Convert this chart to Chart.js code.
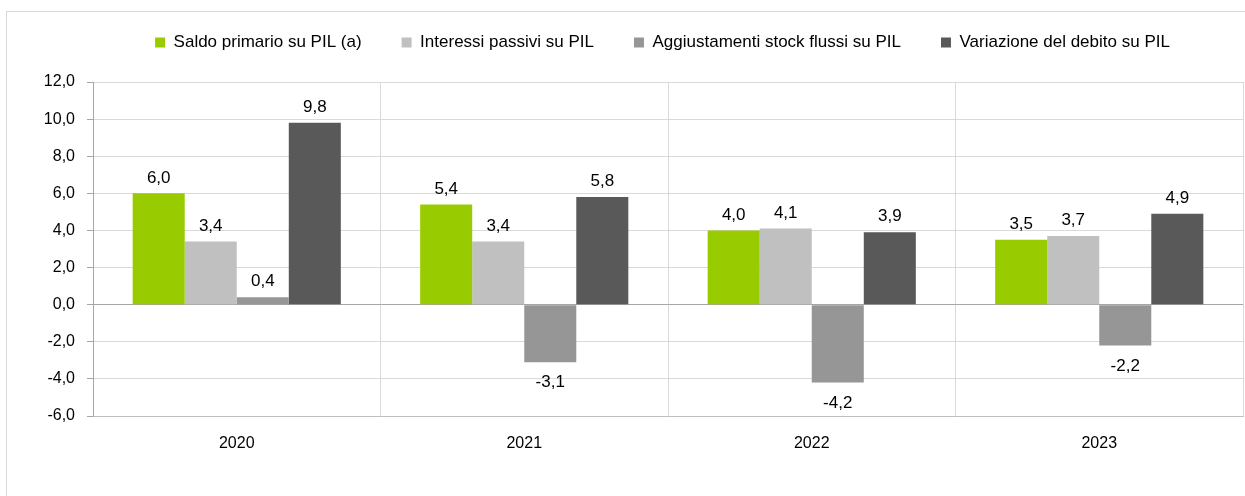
<!DOCTYPE html>
<html lang="it">
  <head>
    <meta charset="UTF-8" />
    <title>Variazione del debito</title>
    <style>
      body {
        margin: 0;
        background: #fff;
      }
      .wrap {
        position: relative;
        width: 1245px;
        height: 496px;
        overflow: hidden;
      }
      .frame {
        position: absolute;
        left: 6px;
        top: 11px;
        width: 1240px;
        height: 500px;
        border: 1px solid #d9d9d9;
      }
      .chart-box {
        position: absolute;
        left: 0;
        top: 0;
        width: 1245px;
        height: 496px;
      }
    </style>
  </head>
  <body>
    <div class="wrap">
      <div class="frame"></div>
      <div class="chart-box">
        <canvas id="mychart"></canvas>
      </div>
    </div>

    <script src="https://cdn.jsdelivr.net/npm/chart.js@4/dist/chart.umd.min.js"></script>
    <script>
      // dati
      const anni = ["2020", "2021", "2022", "2023"];
      const saldoPrimario = [6.0, 5.4, 4.0, 3.5];
      const interessiPassivi = [3.4, 3.4, 4.1, 3.7];
      const aggiustamenti = [0.4, -3.1, -4.2, -2.2];
      const variazioneDebito = [9.8, 5.8, 3.9, 4.9];
      const yTicks = [-6, -4, -2, 0, 2, 4, 6, 8, 10, 12];

      const FONT = "'Liberation Sans', Arial, sans-serif";
      const fmt = (v) => v.toFixed(1).replace(".", ",");

      // etichette dei valori sopra/sotto le barre
      const valueLabels = {
        id: "valueLabels",
        afterDatasetsDraw(chart) {
          const ctx = chart.ctx;
          ctx.save();
          ctx.font = "17px " + FONT;
          ctx.fillStyle = "#000";
          ctx.textAlign = "center";
          chart.data.datasets.forEach((ds, i) => {
            const meta = chart.getDatasetMeta(i);
            meta.data.forEach((bar, j) => {
              const v = ds.data[j];
              if (v >= 0) {
                ctx.textBaseline = "bottom";
                ctx.fillText(fmt(v), bar.x, bar.y - 7);
              } else {
                ctx.textBaseline = "top";
                ctx.fillText(fmt(v), bar.x, bar.y + 12);
              }
            });
          });
          ctx.restore();
        },
      };

      // legenda: piu spazio sotto e spostata verso il centro dell'area del grafico
      const legendTweak = {
        id: "legendTweak",
        beforeInit(chart) {
          const fit = chart.legend.fit;
          chart.legend.fit = function () {
            fit.bind(chart.legend)();
            this.height += 15;
          };
        },
        afterLayout(chart) {
          chart.legend.left += 82;
          chart.legend.top -= 6;
        },
      };

      const mychart = document.getElementById("mychart");

      new Chart(mychart, {
        type: "bar",
        data: {
          labels: anni,
          datasets: [
            {
              label: "Saldo primario su PIL (a)",
              data: saldoPrimario,
              backgroundColor: "#99cc00",
            },
            {
              label: "Interessi passivi su PIL",
              data: interessiPassivi,
              backgroundColor: "#c0c0c0",
            },
            {
              label: "Aggiustamenti stock flussi su PIL",
              data: aggiustamenti,
              backgroundColor: "#969696",
            },
            {
              label: "Variazione del debito su PIL",
              data: variazioneDebito,
              backgroundColor: "#595959",
            },
          ],
        },
        options: {
          maintainAspectRatio: false,
          animation: false,
          layout: { padding: { left: 0, right: 2, top: 0, bottom: 0 } },
          datasets: {
            bar: {
              categoryPercentage: 0.724,
              barPercentage: 1,
              borderWidth: 0,
            },
          },
          plugins: {
            tooltip: { enabled: false },
            legend: {
              position: "top",
              labels: {
                boxWidth: 10,
                boxHeight: 10,
                padding: 40,
                color: "#000",
                font: { family: FONT, size: 17 },
              },
            },
          },
          scales: {
            x: {
              afterFit: (s) => {
                s.height = 80;
              },
              grid: {
                color: "#d9d9d9",
                offset: true,
                drawTicks: false,
              },
              border: { color: "#bfbfbf" },
              ticks: {
                color: "#000",
                padding: 18,
                font: { family: FONT, size: 16 },
              },
            },
            y: {
              min: -6,
              max: 12,
              afterFit: (s) => {
                s.width = 93;
              },
              afterBuildTicks: (s) => {
                s.ticks = yTicks.map((v) => ({ value: v }));
              },
              grid: {
                color: (c) => (c.tick && c.tick.value === 0 ? "#a6a6a6" : "#d9d9d9"),
                tickColor: "#a6a6a6",
                tickLength: 6,
              },
              border: { color: "#a6a6a6" },
              ticks: {
                color: "#000",
                padding: 12,
                font: { family: FONT, size: 16 },
                callback: (v) => fmt(v),
              },
            },
          },
        },
        plugins: [valueLabels, legendTweak],
      });
    </script>
  </body>
</html>
